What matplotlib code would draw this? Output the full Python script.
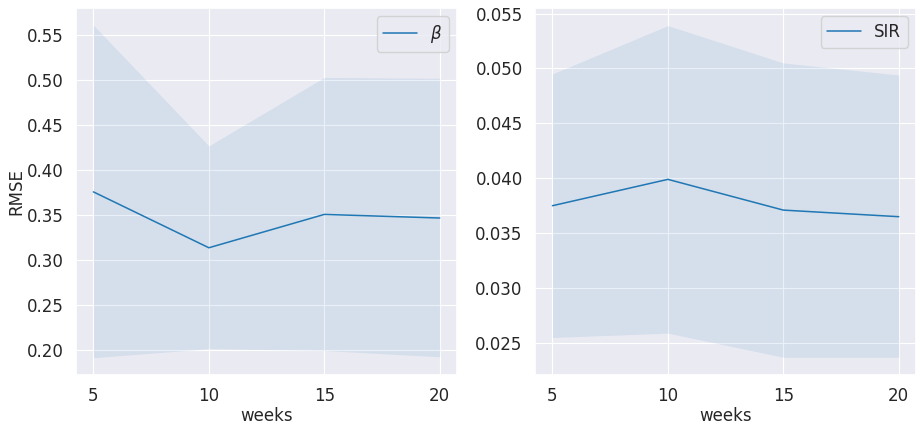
import numpy as np
import matplotlib
matplotlib.use("Agg")
import matplotlib.pyplot as plt
import seaborn as sns

sns.set_theme(style="darkgrid", rc={"grid.linewidth": 0.8})

weeks = [5, 10, 15, 20]

# beta parameter error
beta_mean = [0.376, 0.314, 0.351, 0.347]
beta_low = [0.192, 0.202, 0.200, 0.193]
beta_high = [0.561, 0.427, 0.503, 0.502]

# SIR trajectory error
sir_mean = [0.0375, 0.0399, 0.0371, 0.0365]
sir_low = [0.0255, 0.0259, 0.0237, 0.0237]
sir_high = [0.0495, 0.0539, 0.0505, 0.0494]

fig, (ax1, ax2) = plt.subplots(1, 2, figsize=(9.17, 4.24), dpi=100)
fig.subplots_adjust(left=0.083, right=0.999, top=0.981, bottom=0.116, wspace=0.205)

c = "#1f77b4"

ax1.plot(weeks, beta_mean, color=c, lw=1.1, label=r"$\beta$")
ax1.fill_between(weeks, beta_low, beta_high, color=c, alpha=0.1, lw=0)
ax1.set_ylim(0.173, 0.58)
ax1.set_ylabel("RMSE", fontsize=12, labelpad=1)

ax2.plot(weeks, sir_mean, color=c, lw=1.1, label="SIR")
ax2.fill_between(weeks, sir_low, sir_high, color=c, alpha=0.1, lw=0)
ax2.set_ylim(0.0221, 0.0555)
ax2.set_yticks([0.025, 0.030, 0.035, 0.040, 0.045, 0.050, 0.055])

for ax in (ax1, ax2):
    ax.set_xticks(weeks)
    ax.set_xlabel("weeks", fontsize=12, labelpad=1)
    ax.tick_params(labelsize=12, pad=3)
    ax.legend(loc="upper right", fontsize=12)

fig.savefig("out.png", dpi=100)
